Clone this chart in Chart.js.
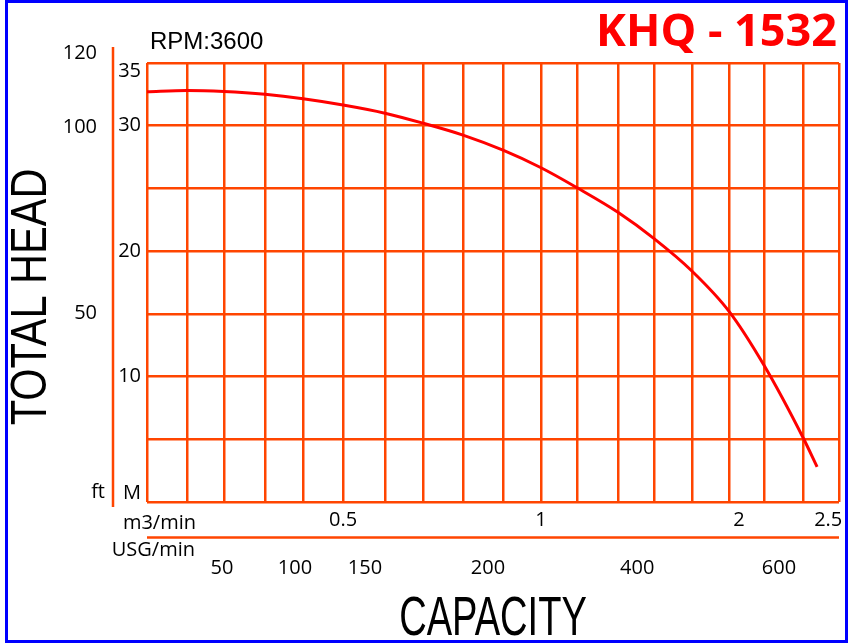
<!DOCTYPE html>
<html>
<head>
<meta charset="utf-8">
<script src="https://cdn.jsdelivr.net/npm/chart.js@4.4.0/dist/chart.umd.min.js"></script>
<style>
  html, body { margin: 0; padding: 0; background: #fff; }
  #marco { position: relative; width: 854px; height: 644px; overflow: hidden; }
  #borde { position: absolute; left: 5px; top: 0; width: 837px; height: 637px; border: 3px solid #0000ff; pointer-events: none; }
  canvas { position: absolute; left: 0; top: 0; }
</style>
</head>
<body>
<div id="marco">
  <canvas id="grafico" width="854" height="644"></canvas>
  <div id="borde"></div>
</div>
<script>
// vertical grid lines of the original sheet (m3/min, hand spaced, not quite even)
const xRejilla = [0, 0.104, 0.2, 0.307, 0.406, 0.51, 0.619, 0.718, 0.822, 0.926, 1.025,
                  1.119, 1.225, 1.319, 1.418, 1.514, 1.605, 1.707, 1.8];

// curve, one point on each grid line
const caudal = [0, 0.104, 0.2, 0.307, 0.406, 0.51, 0.619, 0.718, 0.822, 0.926, 1.025,
                1.119, 1.225, 1.319, 1.418, 1.514, 1.605, 1.707, 1.743];
const altura = [32.7, 32.8, 32.72, 32.5, 32.15, 31.65, 31.0, 30.2, 29.25, 28.05, 26.65,
                25.05, 23.1, 21.0, 18.4, 15.2, 10.9, 5.1, 2.8];

// tick labels
const metrosTicks = [10, 20, 30, 35];
const piesTicks = [50, 100, 120];
const m3Etiquetas = ['0.5', '1', '2', '2.5'];
const m3Valores = [0.51, 1.025, 1.54, 1.772];
const usgEtiquetas = ['50', '100', '150', '200', '400', '600'];
const usgValores = [0.195, 0.385, 0.567, 0.887, 1.275, 1.644];

const NARANJA = '#ff4500';
const NEGRO = '#000';
const FUENTE = '"Open Sans", sans-serif';

const textos = {
    id: 'textos',
    afterDraw(chart) {
        const ctx = chart.ctx;
        const x = chart.scales.x;
        const y = chart.scales.y;
        const yPies = chart.scales.yPies;
        const area = chart.chartArea;

        ctx.save();
        ctx.fillStyle = NEGRO;
        ctx.textBaseline = 'middle';

        // meters
        ctx.font = '20px ' + FUENTE;
        ctx.textAlign = 'right';
        metrosTicks.forEach(v => {
            let py = y.getPixelForValue(v);
            if (v === 35) py += 8;
            ctx.fillText(String(v), area.left - 6, py);
        });
        ctx.fillText('M', area.left - 6, area.bottom - 9);

        // feet axis
        ctx.strokeStyle = NARANJA;
        ctx.lineWidth = 2.5;
        ctx.beginPath();
        ctx.moveTo(113, area.top - 16);
        ctx.lineTo(113, area.bottom + 5);
        ctx.stroke();
        piesTicks.forEach(v => {
            ctx.fillText(String(v), 97, yPies.getPixelForValue(v));
        });
        ctx.fillText('ft', 105, area.bottom - 10);

        // capacity rows
        ctx.textAlign = 'center';
        m3Etiquetas.forEach((t, i) => ctx.fillText(t, x.getPixelForValue(m3Valores[i]), 520));
        usgEtiquetas.forEach((t, i) => ctx.fillText(t, x.getPixelForValue(usgValores[i]), 568));
        ctx.textAlign = 'right';
        ctx.fillText('m3/min', 196, 523);
        ctx.fillText('USG/min', 195, 550);

        ctx.beginPath();
        ctx.moveTo(area.left, 537.5);
        ctx.lineTo(area.right, 537.5);
        ctx.stroke();

        // RPM and model
        ctx.textAlign = 'left';
        ctx.font = '24px "Liberation Sans", Arial, sans-serif';
        ctx.fillText('RPM:3600', 150, 42);

        ctx.textAlign = 'right';
        ctx.fillStyle = '#ff0000';
        ctx.font = 'bold 45px ' + FUENTE;
        ctx.fillText('KHQ - 1532', 837, 33);

        // axis titles (condensed)
        ctx.fillStyle = '#000';
        ctx.font = '50px "Liberation Sans", Arial, sans-serif';
        ctx.textAlign = 'center';
        ctx.save();
        ctx.translate(30, 297);
        ctx.rotate(-Math.PI / 2);
        ctx.scale(0.83, 1);
        ctx.fillText('TOTAL HEAD', 0, 2);
        ctx.restore();

        ctx.save();
        ctx.font = '56px "Liberation Sans", Arial, sans-serif';
        ctx.translate(493, 620);
        ctx.scale(0.68, 1);
        ctx.fillText('CAPACITY', 0, 0);
        ctx.restore();

        ctx.restore();
    }
};

new Chart(document.getElementById('grafico'), {
    type: 'line',
    data: {
        datasets: [{
            data: caudal.map((c, i) => ({ x: c, y: altura[i] })),
            borderColor: '#ff0000',
            borderWidth: 3,
            pointRadius: 0,
            cubicInterpolationMode: 'monotone',
            fill: false
        }]
    },
    options: {
        responsive: false,
        animation: false,
        devicePixelRatio: 1,
        layout: { padding: { left: 147, top: 63, right: 15, bottom: 142 } },
        plugins: { legend: { display: false }, tooltip: { enabled: false } },
        scales: {
            x: {
                type: 'linear',
                min: 0,
                max: 1.8,
                afterBuildTicks: scale => {
                    scale.ticks = xRejilla.map(v => ({ value: v }));
                },
                ticks: { display: false },
                grid: { color: NARANJA, lineWidth: 2.5, drawTicks: false },
                border: { display: false }
            },
            y: {
                min: 0,
                max: 35,
                ticks: { display: false, stepSize: 5 },
                grid: { color: NARANJA, lineWidth: 2.5, drawTicks: false },
                border: { display: false }
            },
            yPies: {
                display: false,
                min: -0.8,
                max: 117.3
            }
        }
    },
    plugins: [textos]
});
</script>
</body>
</html>
